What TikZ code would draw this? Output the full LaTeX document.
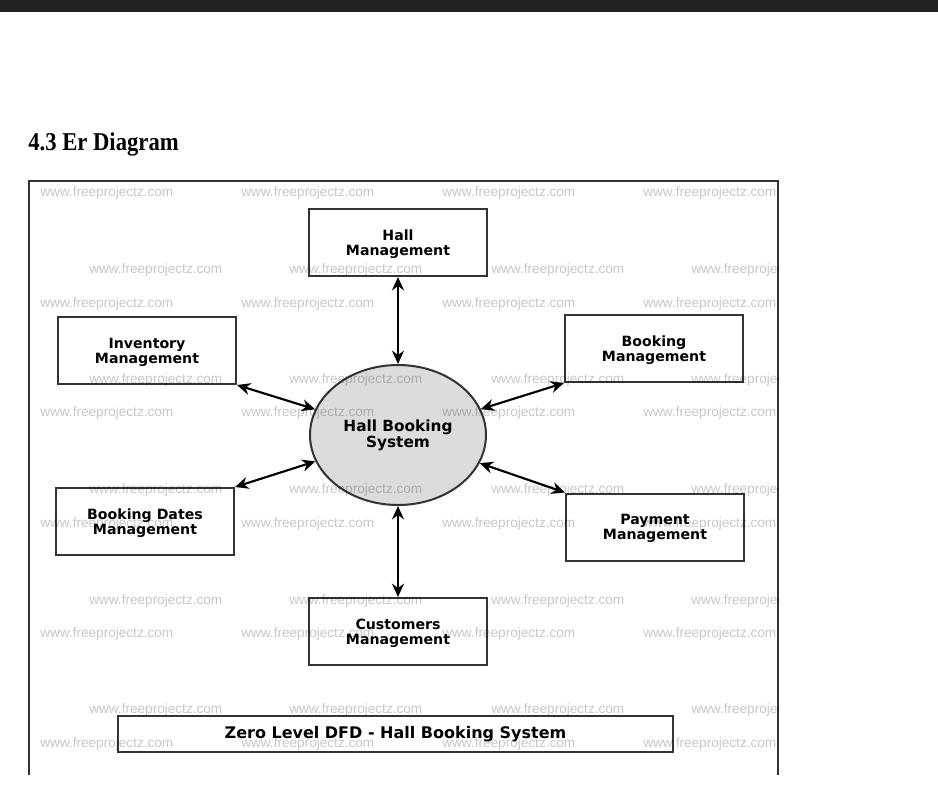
\documentclass[tikz,border=0pt]{standalone}
\usepackage{fontspec}
\newfontfamily\dejavu{DejaVu Sans}
\newfontfamily\libsans{Liberation Sans}
\newfontfamily\libserif{Liberation Serif}
\usetikzlibrary{arrows.meta,shapes.geometric}
\definecolor{topbar}{HTML}{222222}
\definecolor{edge}{HTML}{333333}
\definecolor{bubble}{HTML}{DCDCDC}
\tikzset{
 procbox/.style={draw=edge, line width=1.5pt, fill=white, minimum width=133.5pt, minimum height=50.25pt, align=center, font=\dejavu\bfseries\fontsize{10.6}{11.3}\selectfont, inner sep=0pt, text depth=-2pt},
 flow/.style={line width=1.6pt, draw=black, {Stealth[length=10pt,width=9pt]}-{Stealth[length=10pt,width=9pt]}},
 wm/.style={anchor=west, font=\libsans\fontsize{10.2}{12}\selectfont, text=black, text opacity=0.22, inner sep=0pt},
}
\begin{document}
\begin{tikzpicture}[x=0.75pt,y=-0.75pt]
\useasboundingbox (0,0) rectangle (938,790);
\fill[white] (0,0) rectangle (938,790);
\fill[topbar] (0,0) rectangle (938,12);
\node[anchor=base west, inner sep=0pt, font=\libserif\bfseries\fontsize{17}{20}\selectfont] (title) at (28,150) {\scalebox{1.0}[1.13]{4.3 Er Diagram}};
\draw[edge, line width=1.5pt] (29,775) -- (29,181) -- (778,181) -- (778,775);

\node[procbox] (hall) at (398,242.5) {Hall\\Management};
\node[procbox] (inv) at (147,350.5) {Inventory\\Management};
\node[procbox] (bkm) at (654,348.5) {Booking\\Management};
\node[procbox] (bkd) at (145,521.5) {Booking Dates\\Management};
\node[procbox] (pay) at (655,527) {Payment\\Management};
\node[procbox] (cust) at (398,631.5) {Customers\\Management};
\node[ellipse, draw=edge, line width=1.5pt, fill=bubble, minimum width=132pt, minimum height=105pt, inner sep=0pt, align=center, font=\dejavu\bfseries\fontsize{11.5}{12}\selectfont] (hbs) at (398,435) {Hall Booking\\System};
\node[draw=edge, line width=1.5pt, minimum width=416pt, minimum height=27pt, inner sep=0pt, font=\dejavu\bfseries\fontsize{12}{14}\selectfont] (cap) at (395.5,734) {Zero Level DFD - Hall Booking System};

\draw[flow] (hall) -- (hbs);
\draw[flow] (inv.south east) -- (hbs);
\draw[flow] (bkm.south west) -- (hbs);
\draw[flow] (bkd.north east) -- (hbs);
\draw[flow] (pay.north west) -- (hbs);
\draw[flow] (cust) -- (hbs);

\begin{scope}
\clip (29,181) rectangle (778,790);
\foreach \yy in {193,304,413,524,634,744} \foreach \xx in {40,241,442,643} \node[wm] (wa-\xx-\yy) at (\xx,\yy) {www.freeprojectz.com};
\foreach \yy in {270,380,490,601,710} \foreach \xx in {89,289,491,691} \node[wm] (wb-\xx-\yy) at (\xx,\yy) {www.freeprojectz.com};
\end{scope}
\end{tikzpicture}
\end{document}
